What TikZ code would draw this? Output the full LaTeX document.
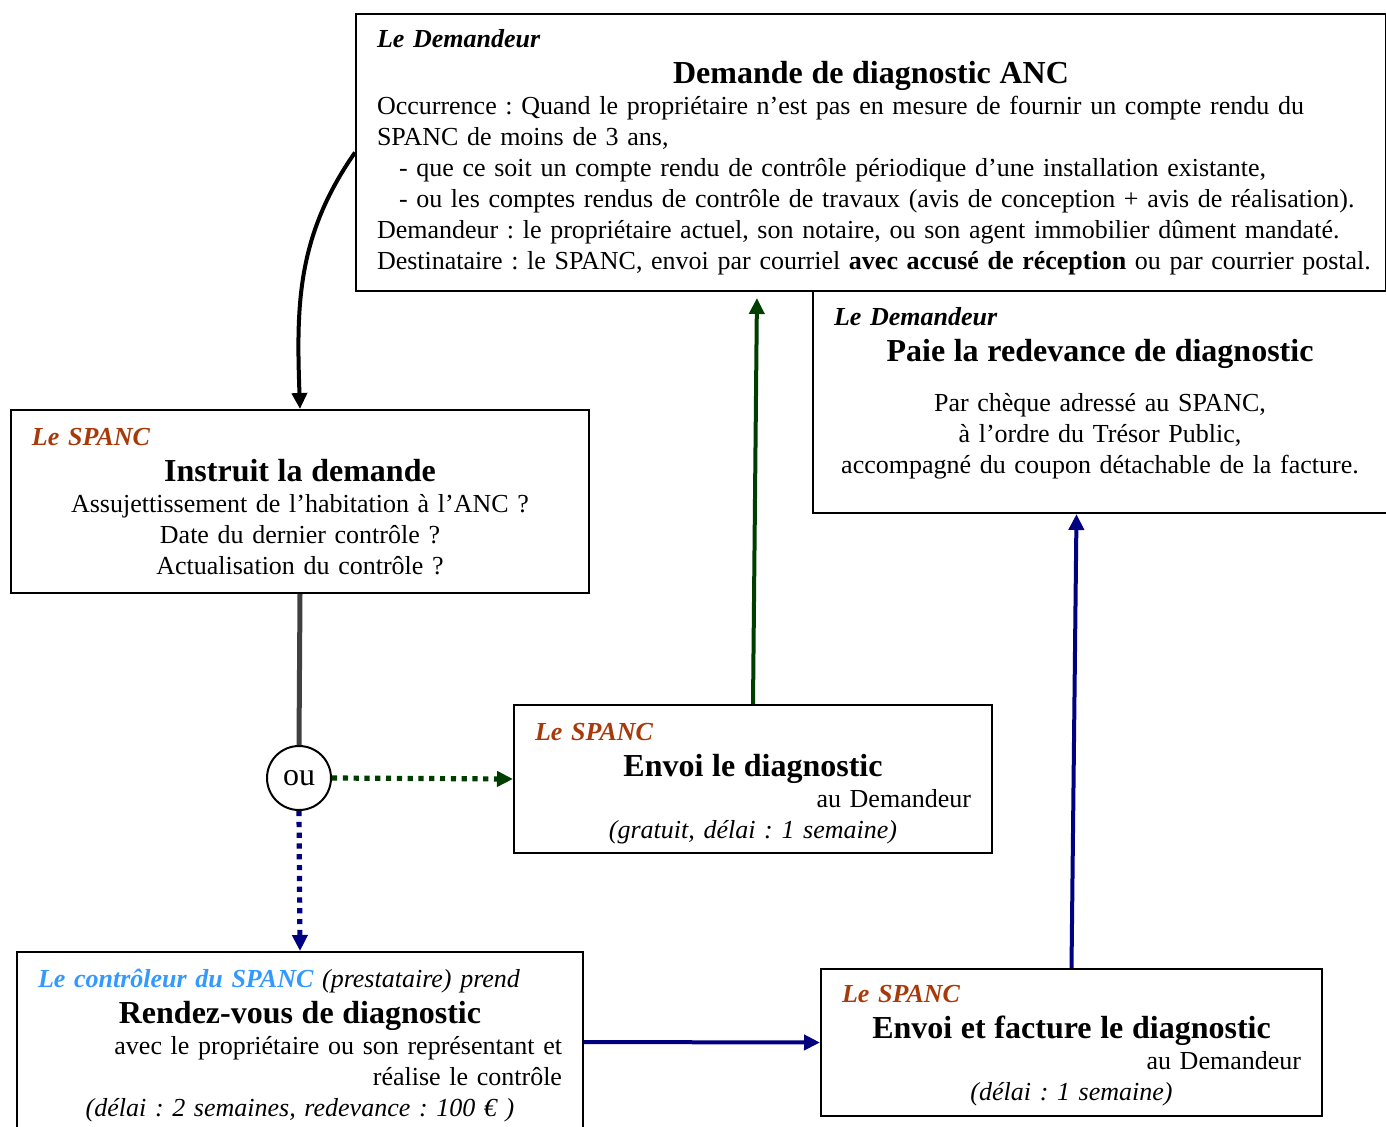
\documentclass[tikz,border=0pt]{standalone}
\usepackage{fontspec}
\setmainfont{Liberation Serif}
\usetikzlibrary{arrows.meta}
\definecolor{brique}{RGB}{168,58,10}
\definecolor{ciel}{RGB}{51,153,255}
\definecolor{sapin}{RGB}{0,62,0}
\definecolor{marine}{RGB}{0,0,128}
\frenchspacing
\newcommand{\gauche}{\rightskip=0pt plus 1fil\relax}
\newcommand{\qui}[1]{{\gauche\bfseries\itshape #1\par}}
\newcommand{\titre}[1]{{\centering\fontsize{16}{18}\selectfont\bfseries #1\par}}
\newcommand{\fond}[1]{\par\vspace{#1}\hrule height 0pt}
\newcommand{\cale}[1]{\rule{0pt}{#1}}
\tikzset{
  etape/.style={draw, line width=1pt, rectangle, anchor=north west, inner xsep=10.5pt,
    inner ysep=0pt, font=\fontsize{13}{15.5}\selectfont},
  tete/.style={-{Triangle[length=8pt,width=7.5pt]}},
  pointille/.style={line width=2.6pt, dash pattern=on 2.6pt off 2.8pt},
}

\begin{document}
\begin{tikzpicture}[x=0.5pt,y=-0.5pt]
    \useasboundingbox (0,0) rectangle (1386,1126);
    % boites
    \node[etape, inner xsep=5.5pt, minimum width=515pt, minimum height=138.5pt, text width=504pt] (dem) at (355,13) {%
        \leftskip=5pt
        \qui{Le Demandeur}
        \titre{Demande de diagnostic ANC}
        {\gauche Occurrence : Quand le propriétaire n’est pas en mesure de fournir un compte rendu du\\
        SPANC de moins de 3 ans,\\
        \hspace*{11pt}- que ce soit un compte rendu de contrôle périodique d’une installation existante,\\
        \hspace*{11pt}- ou les comptes rendus de contrôle de travaux (avis de conception + avis de réalisation).\\
        Demandeur : le propriétaire actuel, son notaire, ou son agent immobilier dûment mandaté.\\
        Destinataire : le SPANC, envoi par courriel \textbf{avec accusé de réception} ou par courrier postal.\par}};
    \node[etape, minimum width=287pt, minimum height=111pt, text width=266pt] (paie) at (812,290) {%
        \qui{Le Demandeur}
        \titre{Paie la redevance de diagnostic}
        \vspace{9.5pt}
        {\centering Par chèque adressé au SPANC,\\
        à l’ordre du Trésor Public,\\
        accompagné du coupon détachable de la facture.\par}
        \fond{9pt}};
    \node[etape, minimum width=289pt, minimum height=91.5pt, text width=268pt] (spanc) at (10,409) {%
        \qui{\color{brique}Le SPANC}
        \titre{Instruit la demande}
        {\centering Assujettissement de l’habitation à l’ANC ?\\
        Date du dernier contrôle ?\\
        Actualisation du contrôle ?\par}};
    \node[etape, minimum width=239pt, minimum height=74pt, text width=218pt] (envoi) at (513,704) {%
        \qui{\cale{13.6pt}\color{brique}Le SPANC}
        \titre{Envoi le diagnostic}
        {\raggedleft au Demandeur\par}
        {\centering\itshape (gratuit, délai : 1 semaine)\par}};
    \node[etape, minimum width=283pt, minimum height=90pt, text width=262pt] (rdv) at (16,951) {%
        {\gauche\itshape\cale{12.5pt}{\bfseries\color{ciel}Le contrôleur du SPANC} (prestataire) prend\par}
        \titre{Rendez-vous de diagnostic}
        {\raggedleft avec le propriétaire ou son représentant et\\
        réalise le contrôle\par}
        {\centering\itshape (délai : 2 semaines, redevance : 100 € )\par}};
    \node[etape, minimum width=250.5pt, minimum height=73.5pt, text width=229.5pt] (fact) at (820,968) {%
        \qui{\cale{11.8pt}\color{brique}Le SPANC}
        \titre{Envoi et facture le diagnostic}
        {\raggedleft au Demandeur\par}
        {\centering\itshape (délai : 1 semaine)\par}};
    \node[draw, circle, line width=1pt, minimum size=32pt, inner sep=0pt,
        font=\fontsize{16}{16}\selectfont] (ou) at (299,778) {\raisebox{-1.5pt}{ou}};
    % liens
    \draw[tete, line width=2pt] (dem.west) to[out=235, in=92] (spanc.north);
    \draw[line width=2.5pt, black!75] (spanc.south) -- (ou.north);
    \draw[tete, pointille, sapin] (ou.east) -- (envoi.west);
    \draw[tete, pointille, marine] (ou.south) -- (rdv.north);
    \draw[tete, sapin, line width=2pt, shorten >=3pt] (envoi.north) -- ([xshift=2pt]envoi.north |- dem.south);
    \draw[tete, marine, line width=2pt] (rdv.east) -- (fact.west);
    \draw[tete, marine, line width=2pt] (fact.north) -- ([xshift=2.5pt]fact.north |- paie.south);
\end{tikzpicture}
\end{document}
